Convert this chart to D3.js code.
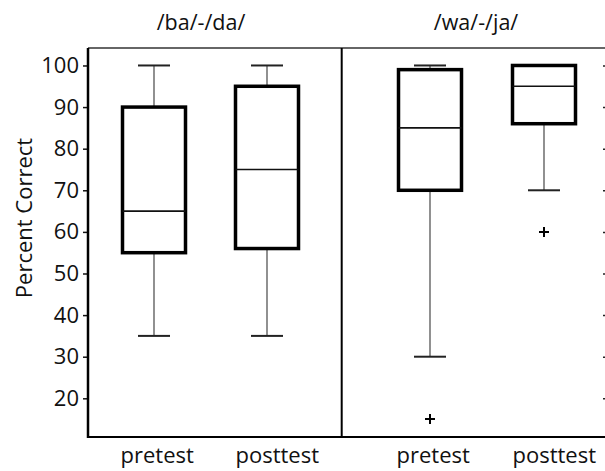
<!DOCTYPE html>
<html>
<head>
<meta charset="utf-8">
<script src="https://cdn.jsdelivr.net/npm/d3@7"></script>
<style>
  body { margin: 0; background: #fff; }
  svg { display: block; }
</style>
</head>
<body>
<script>
// panels and groups
const panels = ["/ba/-/da/", "/wa/-/ja/"];
const groups = ["pretest", "posttest"];

// box stats per panel, in groups order
const whiskerLow  = [[35, 35], [30, 70]];
const boxLow      = [[55, 56], [70, 86]];
const medians     = [[65, 75], [85, 95]];
const boxHigh     = [[90, 95], [99, 100]];
const whiskerHigh = [[100, 100], [100, 100]];
const outliers    = [[[], []], [[15], [60]]];

const yTicks = [20, 30, 40, 50, 60, 70, 80, 90, 100];

const width = 605, height = 471;
const plotTop = 48, plotBottom = 437, plotLeft = 88, divider = 341.7, plotRight = 608;

const y = d3.scaleLinear().domain([10.7, 104.2]).range([plotBottom, plotTop]);

// per-panel x positions of box centres
const xs = [
  d3.scalePoint().domain(groups).range([154, 267]),
  d3.scalePoint().domain(groups).range([430, 544])
];
const titleX = [201, 476];

const boxW = 63, capW = 32;
const font = "'Open Sans', sans-serif";

const svg = d3.select("body").append("svg")
    .attr("width", width)
    .attr("height", height)
    .attr("font-family", font);

// left axis
const yAxis = svg.append("g")
    .attr("transform", `translate(${plotLeft},0)`)
    .call(d3.axisLeft(y).tickValues(yTicks).tickSize(5).tickPadding(4));
yAxis.select(".domain").remove();
yAxis.selectAll(".tick line").attr("stroke", "#111").attr("stroke-width", 1.5);
yAxis.selectAll(".tick text").attr("font-size", 22).attr("fill", "#111")
    .attr("font-family", font);

// right axis, inward ticks (mostly off-canvas)
const yAxisR = svg.append("g")
    .attr("transform", `translate(${plotRight},0)`)
    .call(d3.axisRight(y).tickValues(yTicks).tickSize(-5).tickFormat(""));
yAxisR.select(".domain").remove();
yAxisR.selectAll(".tick line").attr("stroke", "#222").attr("stroke-width", 1.5);

// frame lines
svg.append("line").attr("x1", plotLeft).attr("x2", plotRight).attr("y1", plotTop).attr("y2", plotTop)
    .attr("stroke", "#333").attr("stroke-width", 1.5);
svg.append("line").attr("x1", plotLeft).attr("x2", plotRight).attr("y1", plotBottom).attr("y2", plotBottom)
    .attr("stroke", "#000").attr("stroke-width", 2);
svg.append("line").attr("x1", plotLeft).attr("x2", plotLeft).attr("y1", plotTop).attr("y2", plotBottom + 1)
    .attr("stroke", "#000").attr("stroke-width", 2.5);
svg.append("line").attr("x1", divider).attr("x2", divider).attr("y1", plotTop).attr("y2", plotBottom)
    .attr("stroke", "#000").attr("stroke-width", 2);

// y label
svg.append("text")
    .attr("transform", `translate(32,218) rotate(-90)`)
    .attr("text-anchor", "middle")
    .attr("font-size", 22)
    .attr("fill", "#111")
    .text("Percent Correct");

panels.forEach((p, pi) => {
  const x = xs[pi];

  svg.append("text")
      .attr("x", titleX[pi]).attr("y", 30)
      .attr("text-anchor", "middle")
      .attr("font-size", 21.5)
      .attr("fill", "#111")
      .text(p);

  groups.forEach((g, gi) => {
    const cx = x(g);
    const gr = svg.append("g");

    // whiskers
    gr.append("line").attr("x1", cx).attr("x2", cx)
        .attr("y1", y(whiskerHigh[pi][gi])).attr("y2", y(boxHigh[pi][gi]))
        .attr("stroke", "#555").attr("stroke-width", 1.3);
    gr.append("line").attr("x1", cx).attr("x2", cx)
        .attr("y1", y(boxLow[pi][gi])).attr("y2", y(whiskerLow[pi][gi]))
        .attr("stroke", "#555").attr("stroke-width", 1.3);
    [whiskerHigh[pi][gi], whiskerLow[pi][gi]].forEach(v => {
      gr.append("line").attr("x1", cx - capW / 2).attr("x2", cx + capW / 2)
          .attr("y1", y(v)).attr("y2", y(v))
          .attr("stroke", "#222").attr("stroke-width", 2);
    });

    // box
    gr.append("rect")
        .attr("x", cx - boxW / 2)
        .attr("y", y(boxHigh[pi][gi]))
        .attr("width", boxW)
        .attr("height", y(boxLow[pi][gi]) - y(boxHigh[pi][gi]))
        .attr("fill", "none")
        .attr("stroke", "#000")
        .attr("stroke-width", 3.5);

    // median
    gr.append("line").attr("x1", cx - boxW / 2).attr("x2", cx + boxW / 2)
        .attr("y1", y(medians[pi][gi])).attr("y2", y(medians[pi][gi]))
        .attr("stroke", "#111").attr("stroke-width", 1.6);

    // outliers
    outliers[pi][gi].forEach(v => {
      gr.append("path")
          .attr("d", `M${cx - 5},${y(v)}h10M${cx},${y(v) - 5}v10`)
          .attr("stroke", "#000").attr("stroke-width", 2);
    });

    // group label
    svg.append("text")
        .attr("x", cx - boxW / 2 - 2 + (gi === 0 ? 0 : 2))
        .attr("y", 463)
        .attr("font-size", 22)
        .attr("fill", "#111")
        .text(g);
  });
});
</script>
</body>
</html>
